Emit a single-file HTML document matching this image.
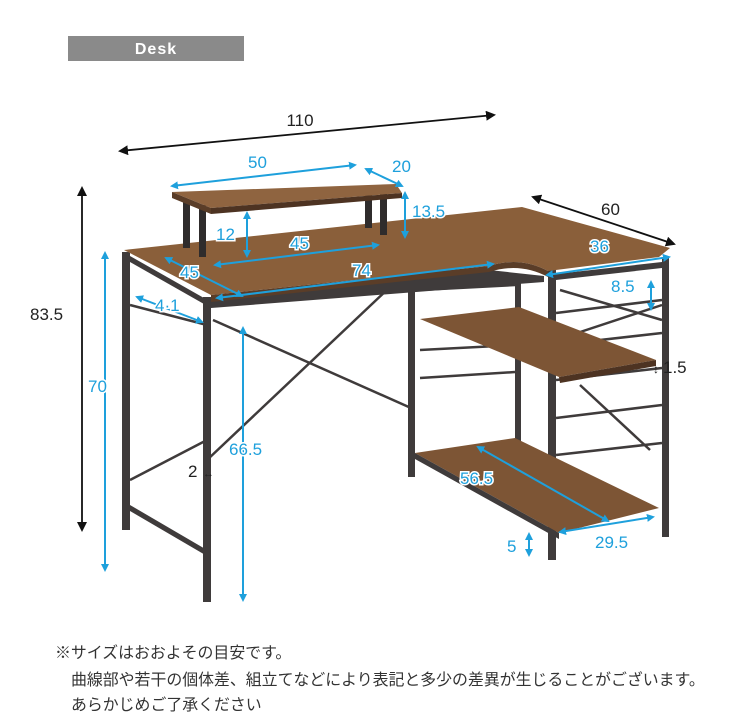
<!DOCTYPE html>
<html><head><meta charset="utf-8"><style>
body{margin:0;background:#fff;width:750px;height:723px;overflow:hidden;font-family:"Liberation Sans","Noto Sans CJK JP",sans-serif}
svg{position:absolute;left:0;top:0}
.b{fill:#1ea0dc;font-size:17px;paint-order:stroke;stroke:#fff;stroke-width:3px}
.k{fill:#222;font-size:17px}
.note{position:absolute;left:55px;font-size:15.9px;color:#333;white-space:nowrap}
</style></head><body>
<svg width="750" height="723" viewBox="0 0 750 723">
<defs>
<marker id="ab" markerWidth="8" markerHeight="8" refX="6" refY="4" orient="auto-start-reverse" markerUnits="userSpaceOnUse"><path d="M0,0 L8,4 L0,8 z" fill="#1ea0dc"/></marker>
<marker id="ak" markerWidth="10" markerHeight="10" refX="8" refY="5" orient="auto-start-reverse" markerUnits="userSpaceOnUse"><path d="M0,0 L10,5 L0,10 z" fill="#111"/></marker>
</defs>
<rect x="68" y="36" width="176" height="25" fill="#8a8a8a"/>
<text x="156" y="54" fill="#fff" font-size="16" font-weight="bold" text-anchor="middle" letter-spacing="1">Desk</text>
<line x1="120" y1="151" x2="494" y2="115" stroke="#111" stroke-width="1.8" marker-start="url(#ak)" marker-end="url(#ak)"/>
<text x="300" y="126" class="k" text-anchor="middle">110</text>
<line x1="82" y1="188" x2="82" y2="530" stroke="#111" stroke-width="1.8" marker-start="url(#ak)" marker-end="url(#ak)"/>
<text x="30" y="320" class="k">83.5</text>
<line x1="533" y1="197" x2="674" y2="244" stroke="#111" stroke-width="1.8" marker-start="url(#ak)" marker-end="url(#ak)"/>
<text x="601" y="215" class="k">60</text>
<g stroke="#3f3b3b" stroke-width="2.5" fill="none">
<line x1="130" y1="305" x2="207" y2="325"/>
<line x1="213" y1="320" x2="411" y2="408"/><line x1="207" y1="460" x2="390" y2="287"/>
<line x1="130" y1="480" x2="207" y2="440"/>
<line x1="420" y1="290" x2="515" y2="285"/><line x1="420" y1="350" x2="515" y2="345"/><line x1="420" y1="378" x2="515" y2="372"/>
<line x1="556" y1="313" x2="662" y2="300"/><line x1="556" y1="345" x2="662" y2="333"/><line x1="556" y1="380" x2="662" y2="368"/>
<line x1="556" y1="418" x2="662" y2="405"/><line x1="556" y1="455" x2="662" y2="443"/>
<line x1="560" y1="290" x2="662" y2="320"/><line x1="580" y1="385" x2="650" y2="450"/>
<line x1="556" y1="340" x2="662" y2="305"/>
</g>
<g fill="#3f3b3b">
<rect x="122" y="252" width="8" height="278"/>
<rect x="203" y="297" width="8" height="305"/>
<rect x="408" y="283" width="7" height="194"/>
<rect x="548" y="270" width="8" height="290"/>
<rect x="662" y="258" width="7" height="279"/>
<rect x="515" y="277" width="6" height="175"/>
<polygon points="130,256 211,302 211,308 130,262"/>
<polygon points="211,300 489,270 544,276 544,282 211,308"/>
<polygon points="556,274 662,262 662,268 556,280"/>
<polygon points="130,505 207,550 207,556 130,511"/>
</g>
<path d="M124,250 L522,207 L670,248 L659,257 L548,271 Q520,256 489,266 L211,295 Z" fill="#8a5f3a"/>
<path d="M211,295 L489,266 Q520,256 548,271 L548,277 Q520,262 489,272 L211,302 Z" fill="#5a3d28"/>
<polygon points="420,319 519,307 656,360 559,377" fill="#7d5535"/>
<polygon points="559,377 656,360 656,366 560,383" fill="#4d3322"/>
<polygon points="415,453 515,438 659,508 559,533" fill="#7d5535"/>
<polygon points="415,453 559,533 559,539 415,459" fill="#3f3b3b"/>
<g fill="#2f2c2c">
<rect x="183" y="200" width="7" height="48"/><rect x="199" y="205" width="7" height="52"/>
<rect x="365" y="195" width="7" height="33"/><rect x="380" y="193" width="7" height="42"/>
</g>
<polygon points="172,192 396,184 402,193 211,208" fill="#8f6440"/>
<polygon points="172,192 211,208 211,214 172,198" fill="#5a3d28"/>
<polygon points="211,208 402,193 402,198 211,214" fill="#4d3322"/>
<g stroke="#1ea0dc" stroke-width="2" marker-start="url(#ab)" marker-end="url(#ab)">
<line x1="172" y1="186" x2="355" y2="165"/>
<line x1="366" y1="169" x2="402" y2="186"/>
<line x1="405" y1="193" x2="405" y2="237"/>
<line x1="247" y1="213" x2="247" y2="256"/>
<line x1="215" y1="265" x2="378" y2="245"/>
<line x1="166" y1="258" x2="242" y2="296"/>
<line x1="217" y1="298" x2="493" y2="264"/>
<line x1="137" y1="297" x2="202" y2="322"/>
<line x1="105" y1="253" x2="105" y2="570"/>
<line x1="243" y1="328" x2="243" y2="600"/>
<line x1="547" y1="275" x2="669" y2="257"/>
<line x1="651" y1="282" x2="651" y2="309"/>
<line x1="478" y1="447" x2="608" y2="521"/>
<line x1="560" y1="532" x2="653" y2="517"/>
<line x1="529" y1="534" x2="529" y2="555"/>
</g>
<text x="248" y="168" class="b">50</text>
<text x="392" y="172" class="b">20</text>
<text x="412" y="217" class="b">13.5</text>
<text x="216" y="240" class="b">12</text>
<text x="290" y="249" class="b">45</text>
<text x="180" y="278" class="b">45</text>
<text x="352" y="276" class="b">74</text>
<text x="155" y="311" class="b">4·1</text>
<text x="88" y="392" class="b">70</text>
<text x="229" y="455" class="b">66.5</text>
<text x="188" y="477" class="k">2</text>
<text x="203" y="477" fill="#222" font-size="11">↔</text>
<text x="590" y="252" class="b">36</text>
<text x="611" y="292" class="b">8.5</text>
<text x="653" y="373" fill="#222" font-size="12">↕</text>
<text x="663" y="373" class="k">1.5</text>
<text x="460" y="484" class="b">56.5</text>
<text x="595" y="548" class="b">29.5</text>
<text x="507" y="552" class="b">5</text>
</svg>
<div class="note" style="top:640px">※サイズはおおよその目安です。</div>
<div class="note" style="top:667px;left:71px">曲線部や若干の個体差、組立てなどにより表記と多少の差異が生じることがございます。</div>
<div class="note" style="top:692px;left:71px">あらかじめご了承ください</div>
</body></html>
